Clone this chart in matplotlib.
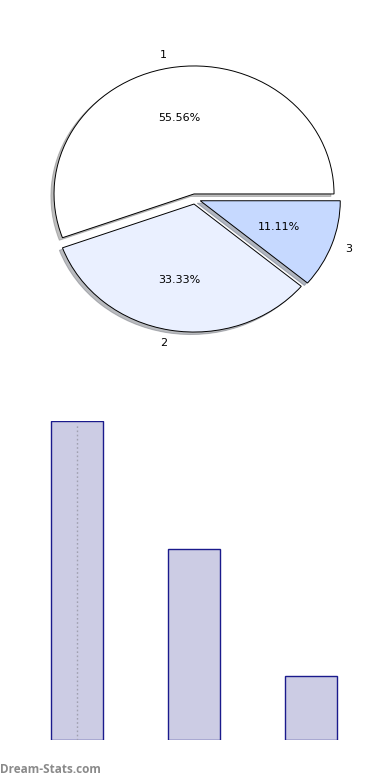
import numpy as np
import matplotlib
matplotlib.use("Agg")
import matplotlib.pyplot as plt

# data
labels = ['1', '2', '3']
values = [5, 3, 1]
pie_colors = ['#ffffff', '#eaf0ff', '#c6d9ff']
bar_color = '#ccccE4'
bar_edge = '#1a1a8c'

W, H = 390, 780
fig = plt.figure(figsize=(W / 100, H / 100), dpi=100)

# pie, top half (axes not square -> slightly flattened pie)
ax1 = fig.add_axes([20 / W, (H - 359) / H, 350 / W, 320 / H])
ax1.pie(values, labels=labels, colors=pie_colors, explode=[0.04] * 3,
        autopct='%.2f%%', startangle=0,
        shadow=dict(ox=-0.016, oy=-0.014, shade=0.5),
        wedgeprops=dict(edgecolor='black', linewidth=0.7),
        textprops=dict(fontsize=8))
ax1.set_aspect('auto')
ax1.set_xlim(-1.25, 1.25)
ax1.set_ylim(-1.25, 1.25)

# bars, bottom half
ax2 = fig.add_axes([18.5 / W, (H - 740) / H, 351 / W, 319 / H])
x = np.arange(len(values))
ax2.bar(x, values, width=0.445, color=bar_color, edgecolor=bar_edge,
        linewidth=1.0, zorder=2)
ax2.axvline(0, ymin=0, ymax=0.99, color='#a0a0b0', linestyle=(0, (1.2, 1.8)),
            linewidth=1.0, zorder=3)
ax2.set_xlim(-0.5, 2.5)
ax2.set_ylim(0, 5)
ax2.axis('off')

fig.text(0, 4 / H, 'Dream-Stats.com', color='#8a8a8a', fontsize=8.5,
         fontweight='bold', family='Open Sans', ha='left', va='bottom')

fig.savefig('out.png', dpi=100)
